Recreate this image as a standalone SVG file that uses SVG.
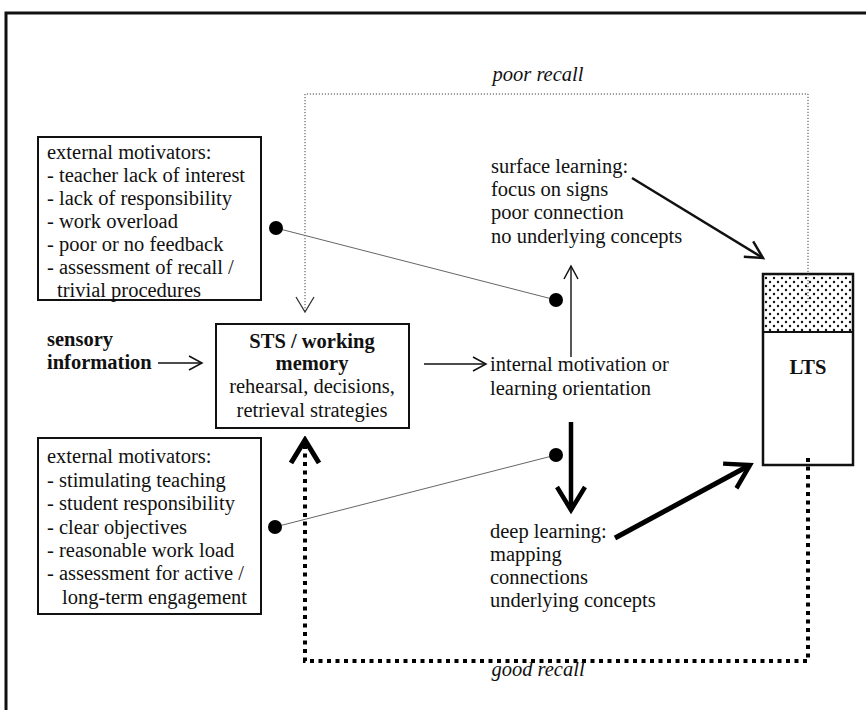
<svg xmlns="http://www.w3.org/2000/svg" width="866" height="710" viewBox="0 0 866 710">
<style>
  text { font-family: "Liberation Serif", "Times New Roman", serif; font-size: 20.5px; fill: #111; }
  .b { font-weight: bold; }
  .i { font-style: italic; }
  .box { fill: #fff; stroke: #111; stroke-width: 2; }
  .thin { fill: none; stroke: #111; stroke-width: 1.4; }
  .link { fill: none; stroke: #666; stroke-width: 1; }
  .dot { fill: #000; }
</style>
<defs>
  <marker id="mThin" markerUnits="userSpaceOnUse" viewBox="0 0 16 18" markerWidth="16" markerHeight="18" refX="14" refY="9" orient="auto">
    <path d="M1,2 L14,9 L1,16" fill="none" stroke="#111" stroke-width="1.5"/>
  </marker>
  <marker id="mMed" markerUnits="userSpaceOnUse" viewBox="0 0 22 24" markerWidth="22" markerHeight="24" refX="19" refY="12" orient="auto">
    <path d="M2,3 L19,12 L2,21" fill="none" stroke="#111" stroke-width="2.5"/>
  </marker>
  <marker id="mThick" markerUnits="userSpaceOnUse" viewBox="0 0 30 34" markerWidth="30" markerHeight="34" refX="26" refY="17" orient="auto">
    <path d="M3,3 L26,17 L3,31" fill="none" stroke="#000" stroke-width="4.5"/>
  </marker>
  <marker id="mDotThin" markerUnits="userSpaceOnUse" viewBox="0 0 20 22" markerWidth="20" markerHeight="22" refX="17" refY="11" orient="auto">
    <path d="M2,2 L17,11 L2,20" fill="none" stroke="#333" stroke-width="1.3"/>
  </marker>
  <marker id="mDotThick" markerUnits="userSpaceOnUse" viewBox="0 0 30 34" markerWidth="30" markerHeight="34" refX="26" refY="17" orient="auto">
    <path d="M3,3 L26,17 L3,31" fill="none" stroke="#000" stroke-width="5"/>
  </marker>
  <pattern id="stipple" patternUnits="userSpaceOnUse" width="8" height="8">
    <rect width="8" height="8" fill="#fff"/>
    <circle cx="2" cy="2" r="1.2" fill="#111"/>
    <circle cx="6" cy="6" r="1.2" fill="#111"/>
  </pattern>
</defs>

<!-- frame -->
<path d="M6,710 L6,13 L866,13" fill="none" stroke="#111" stroke-width="3"/>

<g id="connectors">
  <!-- poor recall loop -->
  <path d="M808,302 L808,94 L305,94 L305,312" fill="none" stroke="#444" stroke-width="1" stroke-dasharray="1.2,1.8" marker-end="url(#mDotThin)"/>
  <!-- good recall loop -->
  <path d="M808,458 L808,661 L305,661 L305,440" fill="none" stroke="#000" stroke-width="4" stroke-dasharray="4,4.5" marker-end="url(#mDotThick)"/>
  <!-- sensory -> STS -->
  <line x1="158" y1="363" x2="202" y2="363" class="thin" marker-end="url(#mThin)"/>
  <!-- STS -> internal -->
  <line x1="424" y1="364" x2="486" y2="364" class="thin" marker-end="url(#mThin)"/>
  <!-- internal -> surface -->
  <line x1="571" y1="357" x2="571" y2="266" class="thin" marker-end="url(#mThin)"/>
  <!-- surface -> LTS -->
  <line x1="632" y1="178" x2="763" y2="258" fill="none" stroke="#111" stroke-width="2.5" marker-end="url(#mMed)"/>
  <!-- internal -> deep -->
  <line x1="571" y1="422" x2="571" y2="510" fill="none" stroke="#000" stroke-width="4.5" marker-end="url(#mThick)"/>
  <!-- deep -> LTS -->
  <line x1="615" y1="538" x2="750" y2="465" fill="none" stroke="#000" stroke-width="5" marker-end="url(#mThick)"/>
  <!-- motivator links -->
  <line x1="276" y1="228" x2="556" y2="300" class="link"/>
  <line x1="275" y1="527" x2="556" y2="455" class="link"/>
  <circle cx="276" cy="228" r="7" class="dot"/>
  <circle cx="556" cy="300" r="7" class="dot"/>
  <circle cx="275" cy="527" r="7" class="dot"/>
  <circle cx="556" cy="455" r="7" class="dot"/>
</g>

<text x="538" y="81" text-anchor="middle" class="i">poor recall</text>
<text x="538" y="676" text-anchor="middle" class="i">good recall</text>

<g id="ext-negative">
  <rect x="38" y="137" width="223" height="163" class="box"/>
  <text x="47" y="159">external motivators:</text>
  <text x="47" y="182">- teacher lack of interest</text>
  <text x="47" y="205">- lack of responsibility</text>
  <text x="47" y="228">- work overload</text>
  <text x="47" y="251">- poor or no feedback</text>
  <text x="47" y="274">- assessment of recall /</text>
  <text x="57" y="297">trivial procedures</text>
</g>

<g id="ext-positive">
  <rect x="38" y="438" width="223" height="176" class="box"/>
  <text x="47" y="463">external motivators:</text>
  <text x="47" y="487">- stimulating teaching</text>
  <text x="47" y="510">- student responsibility</text>
  <text x="47" y="534">- clear objectives</text>
  <text x="47" y="557">- reasonable work load</text>
  <text x="47" y="580">- assessment for active /</text>
  <text x="62" y="604">long-term engagement</text>
</g>

<g id="sensory">
  <text x="47" y="346" class="b">sensory</text>
  <text x="47" y="369" class="b">information</text>
</g>

<g id="sts">
  <rect x="216" y="324" width="193" height="104" class="box"/>
  <text x="312" y="348" text-anchor="middle" class="b">STS / working</text>
  <text x="312" y="370" text-anchor="middle" class="b">memory</text>
  <text x="312" y="393" text-anchor="middle">rehearsal, decisions,</text>
  <text x="312" y="417" text-anchor="middle">retrieval strategies</text>
</g>

<g id="internal">
  <text x="490" y="371">internal motivation or</text>
  <text x="490" y="395">learning orientation</text>
</g>

<g id="surface">
  <text x="491" y="173">surface learning:</text>
  <text x="491" y="196">focus on signs</text>
  <text x="491" y="219">poor connection</text>
  <text x="491" y="243">no underlying concepts</text>
</g>

<g id="deep">
  <text x="490" y="538">deep learning:</text>
  <text x="490" y="561">mapping</text>
  <text x="490" y="584">connections</text>
  <text x="490" y="607">underlying concepts</text>
</g>

<g id="lts">
  <rect x="763" y="274" width="90" height="58" fill="url(#stipple)"/>
  <rect x="763" y="274" width="90" height="191" fill="none" stroke="#111" stroke-width="2.5"/>
  <line x1="763" y1="332" x2="853" y2="332" stroke="#111" stroke-width="2"/>
  <text x="808" y="374" text-anchor="middle" class="b">LTS</text>
</g>
<!-- dotted line reaching into the LTS box -->
<line x1="808" y1="274" x2="808" y2="302" stroke="#444" stroke-width="1" stroke-dasharray="1.2,1.8"/>
</svg>
